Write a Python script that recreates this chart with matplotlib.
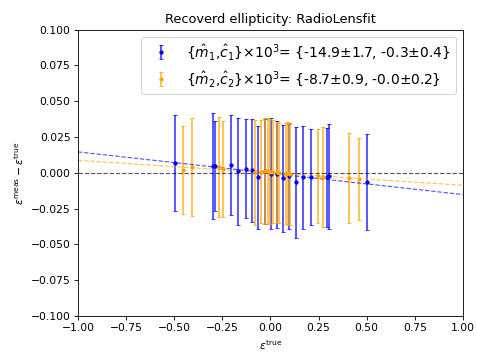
import numpy as np
import matplotlib.pyplot as plt

# blue: measured set 1
x1 = [-0.496, -0.297, -0.287, -0.204, -0.167, -0.127, -0.095, -0.063, -0.029, 0.003,
      0.032, 0.066, 0.098, 0.131, 0.170, 0.209, 0.292, 0.304, 0.500]
y1 = [0.0069, 0.0047, 0.0049, 0.0055, 0.0010, 0.0029, 0.0019, -0.0032, 0.0010, -0.0005,
      -0.0009, -0.0039, -0.0025, -0.0067, -0.0032, -0.0032, -0.0032, -0.0023, -0.0067]
e1 = [0.0335, 0.037, 0.0315, 0.035, 0.0375, 0.0344, 0.036, 0.036, 0.0366, 0.039,
      0.0373, 0.0375, 0.0365, 0.0385, 0.036, 0.0335, 0.0348, 0.0367, 0.0335]

# orange: measured set 2
x2 = [-0.456, -0.406, -0.268, -0.245, -0.081, -0.051, -0.030, -0.011, 0.000, 0.011,
      0.035, 0.043, 0.079, 0.090, 0.100, 0.245, 0.271, 0.409, 0.458]
y2 = [0.0020, 0.0040, 0.0040, 0.0025, 0.0005, 0.0007, 0.0014, 0.0010, 0.0008, 0.0007,
      0.0003, 0.0000, -0.0005, -0.0004, -0.0008, -0.0023, -0.0028, -0.0039, -0.0044]
e2 = [0.031, 0.0344, 0.0347, 0.0335, 0.0367, 0.036, 0.037, 0.037, 0.0365, 0.036,
      0.0355, 0.035, 0.035, 0.036, 0.0355, 0.033, 0.035, 0.0315, 0.0287]

# fit results (x10^3)
m1, dm1, c1, dc1 = -14.9, 1.7, -0.3, 0.4
m2, dm2, c2, dc2 = -8.7, 0.9, -0.0, 0.2

fig = plt.figure(figsize=(477/77, 358/77), dpi=77)
ax = fig.add_axes([0.1635, 0.1173, 0.807, 0.80])

lab1 = r'$\{\hat{m}_1$,$\hat{c}_1\}$×10$^3$= {%.1f$\pm$%.1f, %.1f$\pm$%.1f}' % (m1, dm1, c1, dc1)
lab2 = r'$\{\hat{m}_2$,$\hat{c}_2\}$×10$^3$= {%.1f$\pm$%.1f, -%.1f$\pm$%.1f}' % (m2, dm2, abs(c2), dc2)

ax.errorbar(x1, y1, yerr=e1, fmt='.', ms=6, color='blue', ecolor=(0, 0, 1, 0.75),
            elinewidth=1.6, capsize=2, label=lab1)
ax.errorbar(x2, y2, yerr=e2, fmt='.', ms=6, color='orange', ecolor=(1, 0.647, 0, 0.75),
            elinewidth=1.6, capsize=2, label=lab2)

xx = np.array([-1.0, 1.0])
ax.plot(xx, m1*1e-3*xx + c1*1e-3, '--', color='blue', alpha=0.65, lw=1.1)
ax.plot(xx, m2*1e-3*xx + c2*1e-3, '--', color='orange', alpha=0.65, lw=1.1)
ax.axhline(0, ls='--', color='k', alpha=0.65, lw=1.1)

ax.set_xlim(-1, 1)
ax.set_ylim(-0.1, 0.1)
ax.set_xlabel(r'$\epsilon^{\rm true}$')
ax.set_ylabel(r'$\epsilon^{\rm meas} - \epsilon^{\rm true}$')
ax.set_title('Recoverd ellipticity: RadioLensfit')
ax.legend(loc='upper right', fontsize=13)

fig.savefig('out.png', dpi=77)
